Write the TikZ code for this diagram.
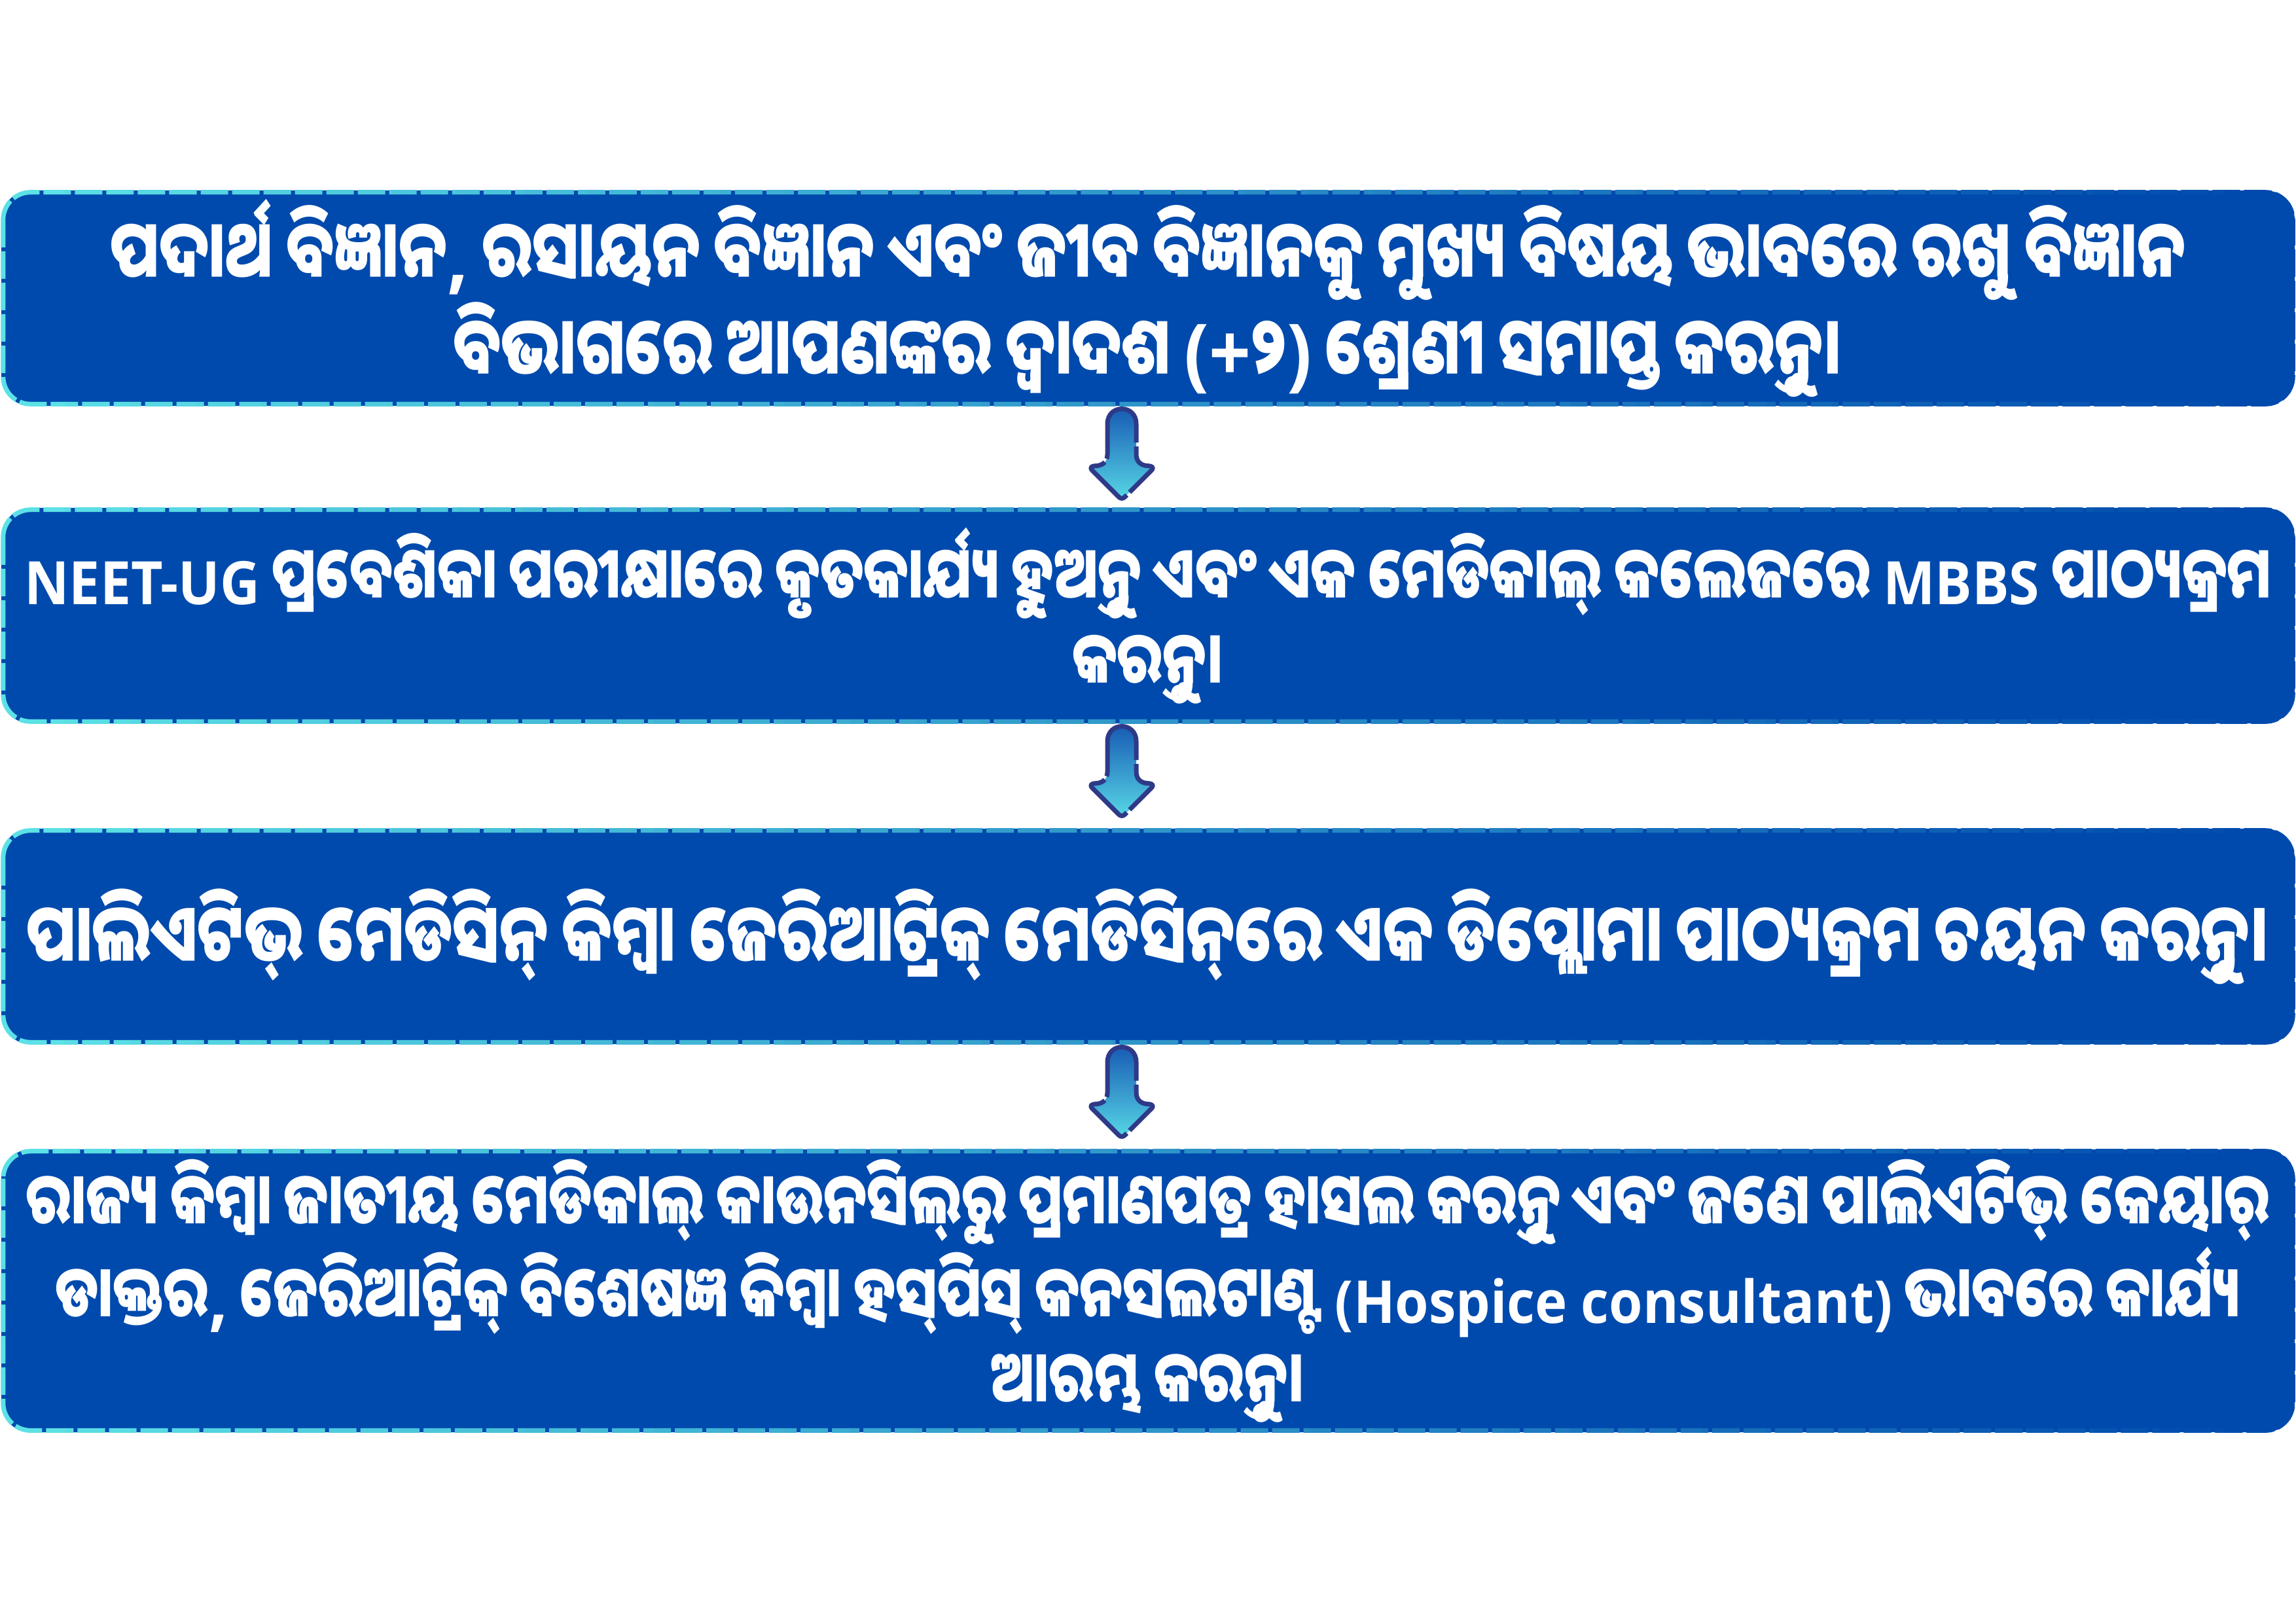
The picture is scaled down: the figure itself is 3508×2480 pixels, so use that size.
\documentclass[tikz,border=0pt]{standalone}
\usepackage{fontspec}
\newfontfamily\odia[Script=Oriya, FakeStretch=0.77]{Noto Sans Oriya UI}
\newfontfamily\ofix[Script=Oriya, FakeStretch=0.77, RawFeature=-pres]{Noto Sans Oriya UI}
\newfontfamily\lat[FakeStretch=0.92]{Open Sans}
\definecolor{boxblue}{HTML}{004AAD}
\definecolor{bordercyan}{HTML}{5CE1E6}
\definecolor{arrownavy}{HTML}{2E3A87}
\definecolor{arrowtop}{HTML}{1455B2}
\definecolor{arrowbot}{HTML}{58D8E6}
\newcommand\ntu{{\ofix ନ୍ତୁ}}
\newcommand\gradborder[1]{%
  \foreach \i in {0,...,35} {%
    \pgfmathsetmacro\pct{max(0,100-\i*100/34)}%
    \begin{scope}
      \clip (\i*100-1,0) rectangle (\i*100+100,2480);
      \draw[bordercyan!\pct!boxblue, line width=0.07cm, dash pattern=on 0.42cm off 0.06cm, rounded corners=0.42cm]
        ([shift={(0.035cm,-0.035cm)}]#1.north west) rectangle ([shift={(-0.035cm,0.035cm)}]#1.south east);
    \end{scope}
  }%
}
\newcommand\flowarr[1]{%
  \begin{scope}[shift={(#1.south)}]
    \path[flowarrow]
      (-62,27) .. controls (-62,-4) and (-18,-4) .. (-18,27)
      -- (-18,73) .. controls (-18,87) and (-8,91) .. (2,91)
      [rounded corners=0.06cm] -- (10,93) -- (-40,143) -- (-90,93) [sharp corners] -- (-82,91)
      .. controls (-72,91) and (-62,87) .. (-62,73) -- cycle;
  \end{scope}%
}
\tikzset{
  stepbox/.style={fill=boxblue, rounded corners=0.45cm, minimum width=35.02cm, inner sep=0pt, text=white, align=center},
  flowarrow/.style={draw=arrownavy, line width=0.07cm, dash pattern=on 1.0cm off 0.06cm, top color=arrowtop, bottom color=arrowbot, line join=round}
}
\begin{document}
\begin{tikzpicture}[x=0.01cm,y=-0.01cm]
\useasboundingbox[fill=white] (0,0) rectangle (3508,2480);
\node[stepbox, minimum height=3.29cm, font=\fontsize{34.6}{42.1}\odia\bfseries] (b1) at (1754,455.5)
  {ପଦାର୍ଥ ବିଜ୍ଞାନ{\lat,} ରସାୟନ ବିଜ୍ଞାନ ଏବଂ ଜୀବ ବିଜ୍ଞାନକୁ ମୁଖ୍ୟ ବିଷୟ ଭାବରେ ରଖୁ ବିଜ୍ଞାନ\\
   ବିଭାଗରେ ଆପଣଙ୍କର ଦ୍ୱାଦଶ {\lat(+}୨{\lat)} ଶ୍ରେଣୀ ସମାପ୍ତ କର\ntu{}।};
\node[stepbox, minimum height=3.29cm, font=\fontsize{31.2}{37}\odia\bfseries] (b2) at (1754,940.5)
  {{\fontsize{26}{30}\lat NEET-UG} ପ୍ରବେଶିକା ପରୀକ୍ଷାରେ କୃତକାର୍ଯ୍ୟ ହୁଅ\ntu{} ଏବଂ ଏକ ମେଡିକାଲ୍ କଲେଜରେ {\fontsize{26}{30}\lat MBBS} ପାଠ୍ୟକ୍ରମ\\
   କର\ntu{}।};
\node[stepbox, minimum height=3.29cm, font=\fontsize{34.8}{46}\odia\bfseries] (b3) at (1754,1430.5)
  {ପାଲିଏଟିଭ୍ ମେଡିସିନ୍ କିମ୍ବା ଜେରିଆଟ୍ରିକ୍ ମେଡିସିନ୍^^^^200cରେ ଏକ ଡିପ୍ଲୋମା ପାଠ୍ୟକ୍ରମ ଚୟନ କର\ntu{}।};
\node[stepbox, minimum height=4.32cm, font=\fontsize{31}{37}\odia\bfseries] (b4) at (1754,1972)
  {ରାଜ୍ୟ କିମ୍ବା ଜାତୀୟ ମେଡିକାଲ୍ କାଉନସିଲ୍^^^^200cରୁ ପ୍ରମାଣପତ୍ର ହାସଲ କର\ntu{} ଏବଂ ଜଣେ ପାଲିଏଟିଭ୍ କେୟାର୍\\
   ଡାକ୍ତର{\lat,} ଜେରିଆଟ୍ରିକ୍ ବିଶେଷଜ୍ଞ କିମ୍ବା ହସ୍^^^^200cପିସ୍ କନସଲଟାଣ୍ଟ {\fontsize{25.7}{30}\lat(Hospice consultant)} ଭାବରେ କାର୍ଯ୍ୟ\\
   ଆରମ୍ଭ କର\ntu{}।};
\gradborder{b1}
\gradborder{b2}
\gradborder{b3}
\gradborder{b4}
\flowarr{b1}
\flowarr{b2}
\flowarr{b3}
\end{tikzpicture}
\end{document}
